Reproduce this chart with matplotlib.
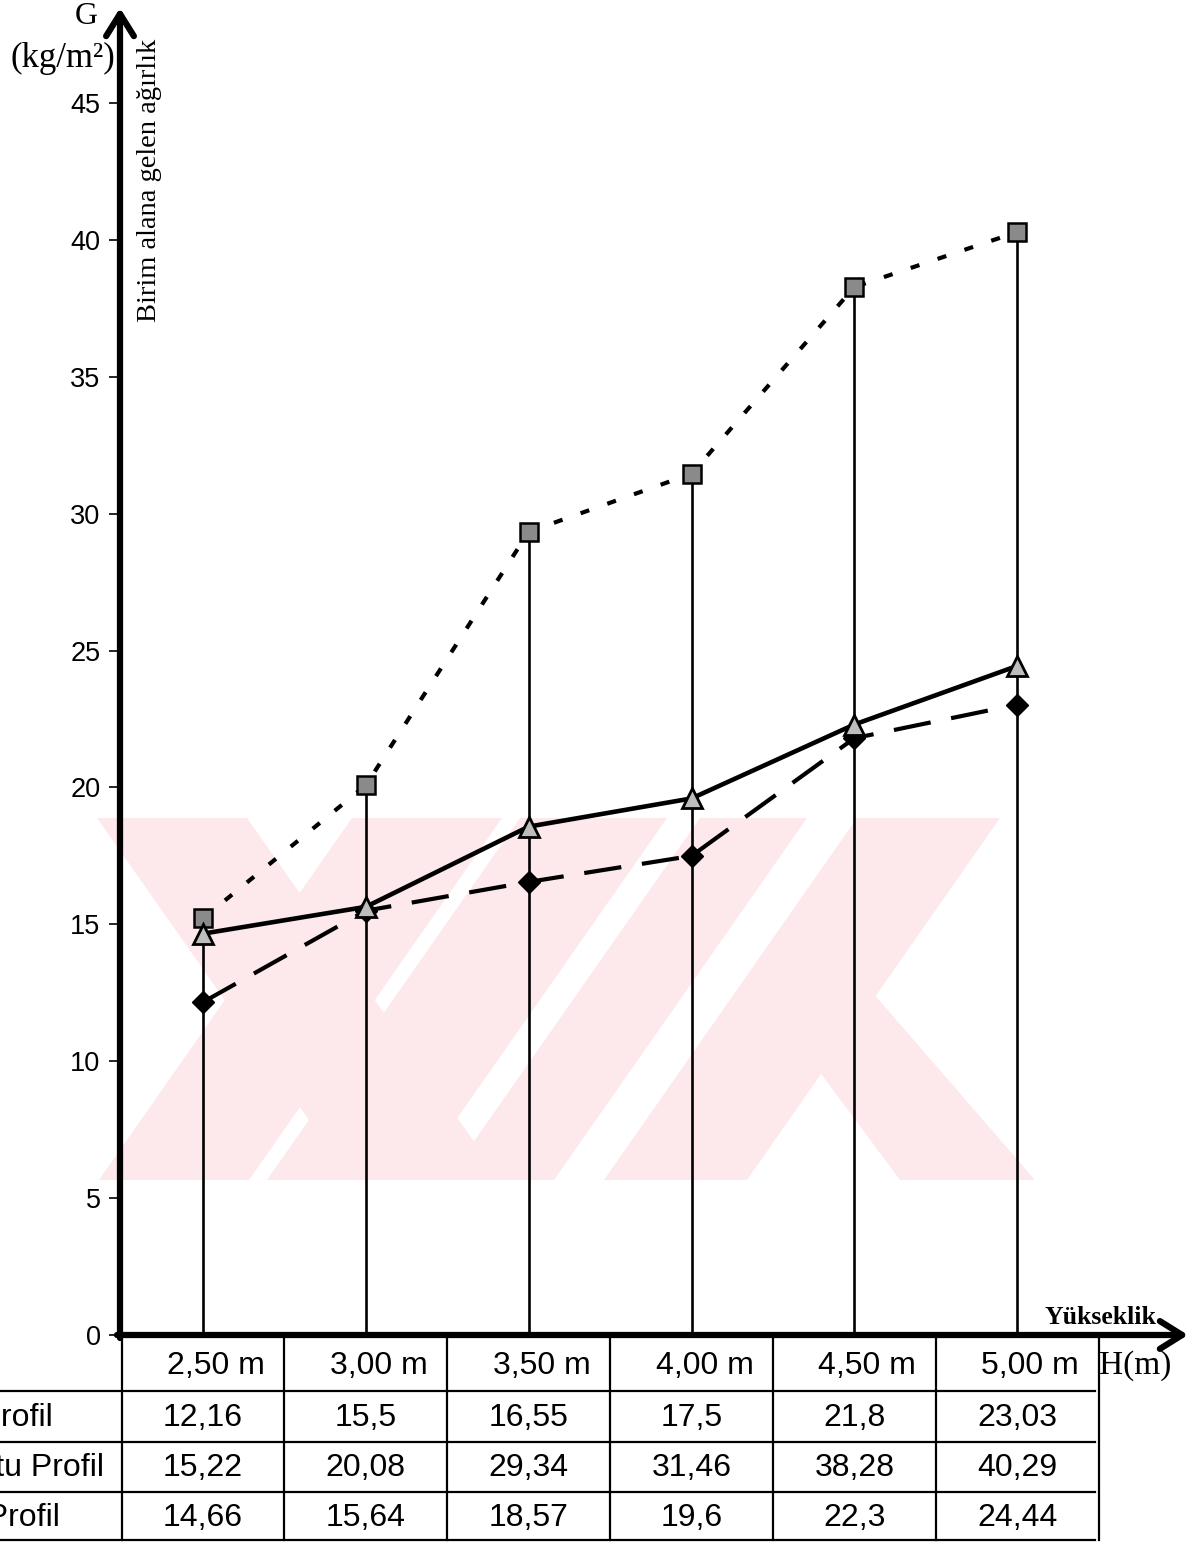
import matplotlib
matplotlib.use("Agg")
import matplotlib.pyplot as plt
from matplotlib.patches import Polygon, Rectangle
from matplotlib.transforms import blended_transform_factory

heights = ["2,50", "3,00", "3,50", "4,00", "4,50", "5,00"]
row_labels = ["L Profil", "Kutu Profil", "I Profil"]
diamond_vals = [12.16, 15.5, 16.55, 17.5, 21.8, 23.03]
square_vals = [15.22, 20.08, 29.34, 31.46, 38.28, 40.29]
triangle_vals = [14.66, 15.64, 18.57, 19.6, 22.3, 24.44]
yticks = [0, 5, 10, 15, 20, 25, 30, 35, 40, 45]

W, H = 1203, 1545
fig = plt.figure(figsize=(W / 100, H / 100), dpi=100)

# background axes in pixel coords (watermark, table frame, labels)
bg = fig.add_axes([0, 0, 1, 1], zorder=0)
bg.set_xlim(0, W)
bg.set_ylim(H, 0)
bg.axis("off")

# watermark (light pink diagonal bands)
pink = "#fde8ec"
clip = Rectangle((95, 818), 940, 362, transform=bg.transData)
shapes = [
    [(97, 818), (247, 818), (501, 1180), (351, 1180)],
    [(352, 818), (502, 818), (249, 1180), (99, 1180)],
    [(520, 818), (667, 818), (414, 1180), (267, 1180)],
    [(700, 818), (807, 818), (554, 1180), (447, 1180)],
    [(857, 818), (1000, 818), (747, 1180), (604, 1180)],
    [(770, 1005), (840, 955), (1035, 1180), (900, 1180)],
]
for pts in shapes:
    p = Polygon(pts, closed=True, facecolor=pink, edgecolor="none", zorder=0)
    bg.add_patch(p)
    p.set_clip_path(clip)

# main chart axes
ax = fig.add_axes([120 / W, (H - 1335) / H, 1060 / W, 1325 / H], zorder=1)
ax.patch.set_alpha(0)
x = list(range(len(heights)))
ax.set_xlim(-0.51, 6.0)
ax.set_ylim(0, 48.4)
for s in ax.spines.values():
    s.set_visible(False)
ax.set_xticks([])
ax.set_yticks(yticks)
ax.set_yticklabels([str(v) for v in yticks], fontsize=19.5, family="Liberation Sans")
ax.tick_params(axis="y", length=8, width=1.2, pad=6)

# drop lines from axis to the highest point
tops = [max(a, b, c) for a, b, c in zip(diamond_vals, square_vals, triangle_vals)]
ax.vlines(x, 0, tops, color="black", lw=1.9, zorder=2)

ax.plot(x, square_vals, color="black", lw=3, dashes=(2.2, 4.6), zorder=3,
        marker="s", markersize=13, markerfacecolor="#8a8a8a",
        markeredgecolor="black", markeredgewidth=1.8)
ax.plot(x, diamond_vals, color="black", lw=3, dashes=(9, 5), zorder=3,
        marker="D", markersize=11, markerfacecolor="black",
        markeredgecolor="black")
ax.plot(x, triangle_vals, color="black", lw=3.3, zorder=4,
        marker="^", markersize=15, markerfacecolor="#bdbdbd",
        markeredgecolor="black", markeredgewidth=2)

# axes with arrows
arrow = dict(arrowstyle="->,head_length=1.6,head_width=1.0", lw=4.5,
             color="black", shrinkA=0, shrinkB=0)
bg.annotate("", xy=(120, 8), xytext=(120, 1338), arrowprops=arrow, zorder=5)
bg.annotate("", xy=(1188, 1335), xytext=(117, 1335), arrowprops=arrow, zorder=5)

serif = "Liberation Serif"
bg.text(86, 16, "G", fontsize=23, family=serif, ha="center", va="center")
bg.text(63, 58, "(kg/m²)", fontsize=25, family=serif,
        ha="center", va="center")
bg.text(149, 180, "Birim alana gelen ağırlık", fontsize=20.5, family=serif,
        rotation=90, ha="center", va="center")
bg.text(1100, 1318, "Yükseklik", fontsize=18.5, family=serif, fontweight="bold",
        ha="center", va="center")
bg.text(1099, 1366, "H(m)", fontsize=24, family=serif, ha="left", va="center")

# data table under the axis
tr = blended_transform_factory(ax.transData, bg.transData)
row_lines = [1391, 1442, 1492, 1540]
for y in row_lines:
    bg.plot([0, 1095], [y, y], color="black", lw=1.6, zorder=2)
bounds = [i - 0.5 for i in range(len(heights) + 1)]
bg.plot([bounds[0], bounds[0]], [1335, 1540], color="black", lw=1.6,
        transform=tr, clip_on=False)
for b in bounds[1:]:
    bg.plot([b, b], [1337, 1540], color="black", lw=1.6, transform=tr, clip_on=False)

sans = "Liberation Sans"
for i, h in enumerate(heights):
    bg.text(i + 0.08, 1366, h + " m", fontsize=23, family=sans, ha="center",
            va="center", transform=tr)
rows = [diamond_vals, square_vals, triangle_vals]
row_y = [1418, 1468, 1518]
label_right = [53, 104, 60]
for vals, y, lab, xr in zip(rows, row_y, row_labels, label_right):
    bg.text(xr, y, lab, fontsize=23, family=sans, ha="right", va="center")
    for i, v in enumerate(vals):
        bg.text(i, y, str(v).replace(".", ","), fontsize=23, family=sans,
                ha="center", va="center", transform=tr)

fig.savefig("out.png", dpi=100)
